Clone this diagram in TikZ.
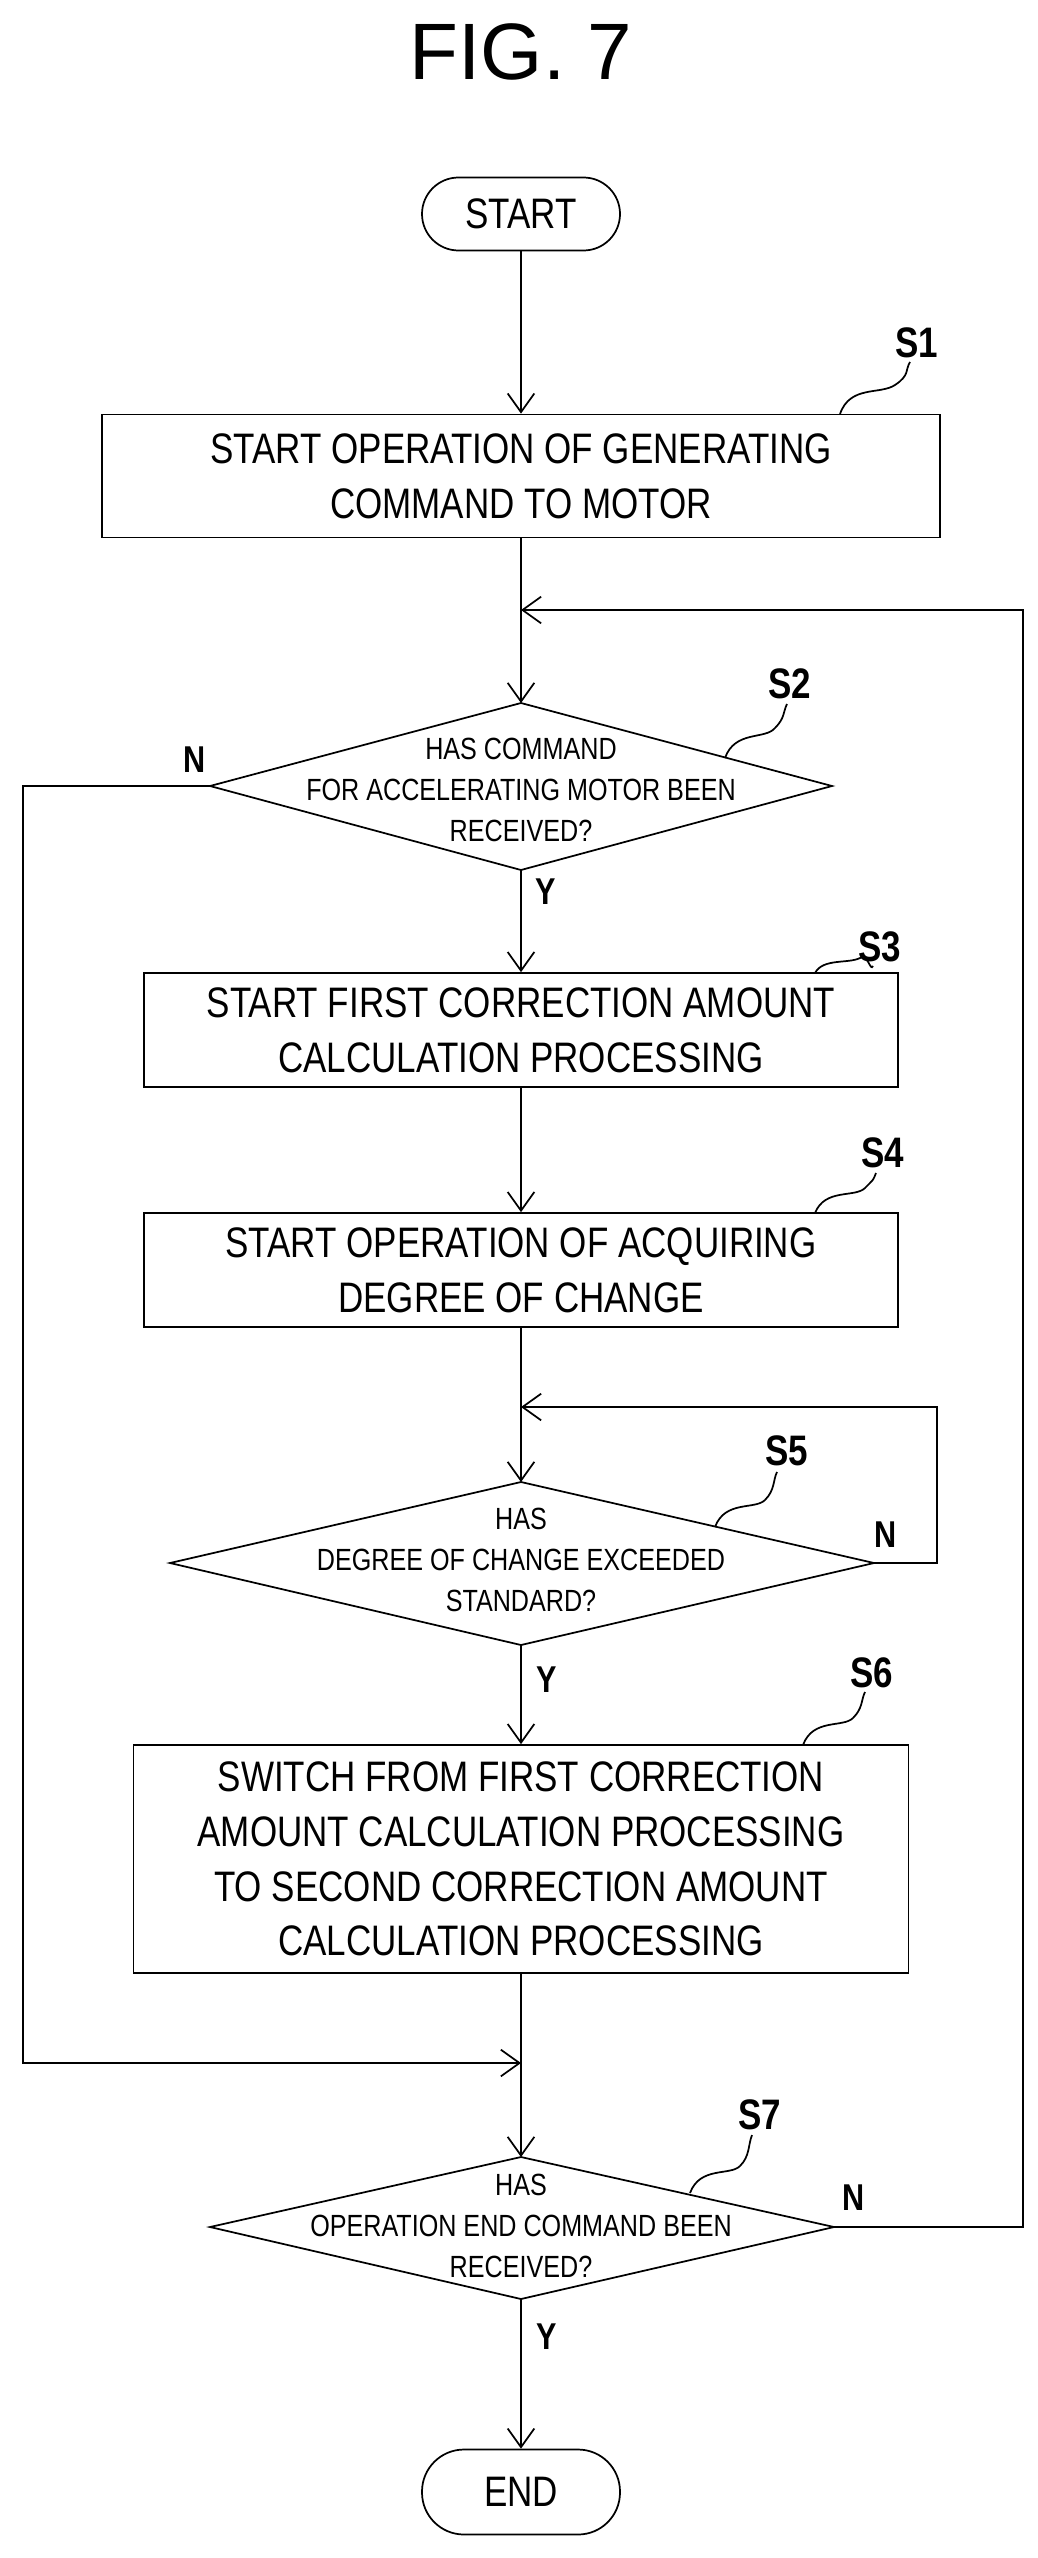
\documentclass[tikz,border=0pt]{standalone}
\usepackage{fontspec}
\setmainfont{Liberation Sans}
\newfontfamily\cond{Liberation Sans}[FakeStretch=0.82]
\usetikzlibrary{arrows.meta}
\begin{document}
\begin{tikzpicture}[x=0.75pt,y=-0.75pt,
  line width=1.3pt,
  arr/.style={-{Straight Barb[length=14pt,width=20pt,line width=1.3pt]}},
  box/.style={draw,rectangle,inner sep=0,align=center,font=\cond\fontsize{32}{41}\selectfont},
  dtext/.style={align=center,inner sep=0,font=\cond\fontsize{23}{31}\selectfont},
  lab/.style={inner sep=0,font=\cond\bfseries\fontsize{32}{32}\selectfont},
  yn/.style={inner sep=0,font=\cond\bfseries\fontsize{28}{28}\selectfont}]
\useasboundingbox (0,0) rectangle (1038,2558);
\node[inner sep=0,font=\fontsize{60}{60}\selectfont] (title) at (521,52) {FIG. 7};
% START
\node[draw,rounded corners=36.5*0.75pt,minimum width=198*0.75pt,minimum height=73*0.75pt,inner sep=0,font=\cond\fontsize{32}{32}\selectfont] (start) at (521,214) {START};
% S1
\node[box,minimum width=838*0.75pt,minimum height=123*0.75pt] (s1) at (521,476) {START OPERATION OF GENERATING\\COMMAND TO MOTOR};
% S2 diamond
\coordinate (s2t) at (521,703); \coordinate (s2l) at (210,786);
\coordinate (s2r) at (832,786); \coordinate (s2b) at (521,870);
\draw (s2t)--(s2r)--(s2b)--(s2l)--cycle;
\node[dtext] (s2) at (521,790) {HAS COMMAND\\FOR ACCELERATING MOTOR BEEN\\RECEIVED?};
% S3
\node[box,minimum width=754*0.75pt,minimum height=114*0.75pt] (s3) at (521,1030) {START FIRST CORRECTION AMOUNT\\CALCULATION PROCESSING};
% S4
\node[box,minimum width=754*0.75pt,minimum height=114*0.75pt] (s4) at (521,1270) {START OPERATION OF ACQUIRING\\DEGREE OF CHANGE};
% S5 diamond
\coordinate (s5t) at (521,1482); \coordinate (s5l) at (170,1563);
\coordinate (s5r) at (874,1563); \coordinate (s5b) at (521,1645);
\draw (s5t)--(s5r)--(s5b)--(s5l)--cycle;
\node[dtext] (s5) at (521,1560) {HAS\\DEGREE OF CHANGE EXCEEDED\\STANDARD?};
% S6
\node[box,minimum width=775*0.75pt,minimum height=228*0.75pt] (s6) at (521,1859) {SWITCH FROM FIRST CORRECTION\\AMOUNT CALCULATION PROCESSING\\TO SECOND CORRECTION AMOUNT\\CALCULATION PROCESSING};
% S7 diamond
\coordinate (s7t) at (521,2157); \coordinate (s7l) at (210,2227);
\coordinate (s7r) at (834,2227); \coordinate (s7b) at (521,2299);
\draw (s7t)--(s7r)--(s7b)--(s7l)--cycle;
\node[dtext] (s7) at (521,2226) {HAS\\OPERATION END COMMAND BEEN\\RECEIVED?};
% END
\node[draw,rounded corners=42*0.75pt,minimum width=198*0.75pt,minimum height=85*0.75pt,inner sep=0,font=\cond\fontsize{32}{32}\selectfont] (end) at (521,2492) {END};
% connectors
\coordinate (loop2) at (521,610); \coordinate (loop5) at (521,1407);
\coordinate (join) at (521,2063);
\coordinate (r7) at (1023,2227); \coordinate (r7t) at (1023,610);
\coordinate (l2) at (23,786); \coordinate (l2b) at (23,2063);
\coordinate (r5) at (937,1563); \coordinate (r5t) at (937,1407);
\draw[arr] (start) -- (s1);
\draw[arr] (s1) -- (s2t);
\draw[arr] (s2b) -- (s3);
\draw[arr] (s3) -- (s4);
\draw[arr] (s4) -- (s5t);
\draw[arr] (s5b) -- (s6);
\draw[arr] (s6) -- (s7t);
\draw[arr] (s7b) -- (end);
\draw[arr] (s7r) -- (r7) -- (r7t) -- (loop2);
\draw[arr] (s2l) -- (l2) -- (l2b) -- (join);
\draw[arr] (s5r) -- (r5) -- (r5t) -- (loop5);
% labels Y/N
\node[yn] (n2) at (195,760) {N};
\node[yn] (y2) at (546,892) {Y};
\node[yn] (n5) at (886,1535) {N};
\node[yn] (y5) at (547,1680) {Y};
\node[yn] (n7) at (854,2198) {N};
\node[yn] (y7) at (547,2337) {Y};
% step labels with squiggles
\node[lab] (l1) at (917,343) {S1};
\draw (840,414) .. controls (850,385) and (880,395) .. (895,385) .. controls (910,375) and (905,370) .. (910,362);
\node[lab] (l2l) at (790,684) {S2};
\draw (725,758) .. controls (735,730) and (765,740) .. (775,728) .. controls (785,718) and (783,712) .. (787,704);
\node[lab] (l3) at (880,947) {S3};
\draw (815,973) .. controls (823,958) and (848,964) .. (860,958) .. controls (868,953) and (870,972) .. (873,966);
\node[lab] (l4) at (883,1153) {S4};
\draw (815,1213) .. controls (825,1188) and (855,1198) .. (865,1188) .. controls (875,1178) and (873,1180) .. (876,1173);
\node[lab] (l5) at (787,1451) {S5};
\draw (715,1527) .. controls (725,1500) and (755,1510) .. (765,1500) .. controls (775,1490) and (773,1480) .. (777,1472);
\node[lab] (l6) at (872,1673) {S6};
\draw (803,1745) .. controls (813,1718) and (843,1728) .. (853,1718) .. controls (863,1708) and (861,1700) .. (865,1692);
\node[lab] (l7) at (760,2115) {S7};
\draw (690,2193) .. controls (700,2166) and (730,2176) .. (740,2166) .. controls (750,2156) and (748,2145) .. (752,2135);
\end{tikzpicture}
\end{document}
